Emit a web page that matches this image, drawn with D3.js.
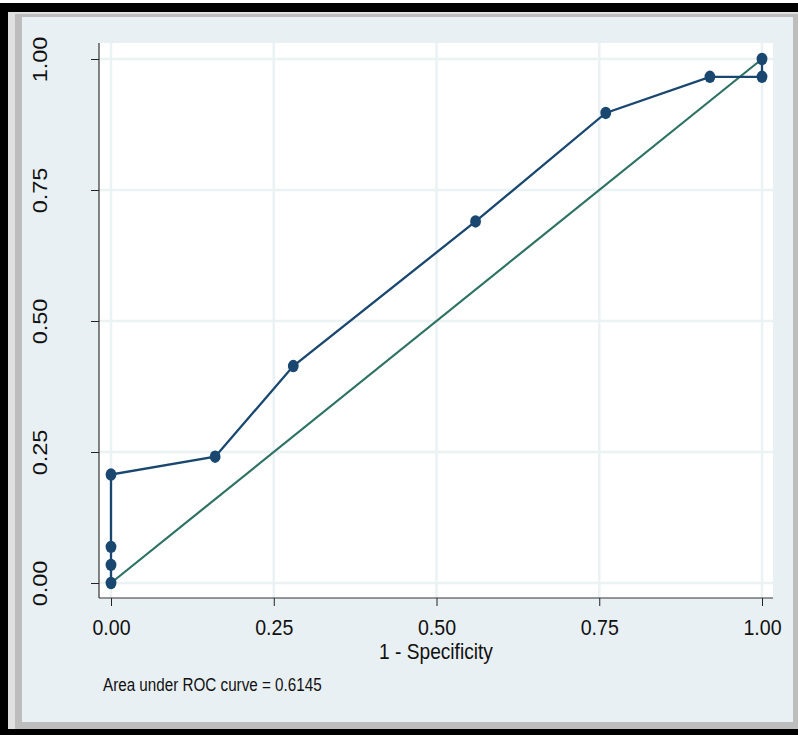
<!DOCTYPE html>
<html>
<head>
<meta charset="utf-8">
<script src="https://cdn.jsdelivr.net/npm/d3@7"></script>
<style>
  body { margin: 0; background: #fff; }
  text { font-family: "Liberation Sans", Arial, sans-serif; fill: #111; }
</style>
</head>
<body>
<div id="chart"></div>
<script>
// ROC curve points (1 - specificity, sensitivity)
const fpr = [0, 0, 0, 0, 0.16, 0.28, 0.56, 0.76, 0.92, 1, 1];
const tpr = [0, 0.0345, 0.069, 0.207, 0.241, 0.414, 0.690, 0.897, 0.966, 0.966, 1];
const tickValues = [0, 0.25, 0.5, 0.75, 1];
const tickLabels = ['0.00', '0.25', '0.50', '0.75', '1.00'];
const xTitle = '1 - Specificity';
const note = 'Area under ROC curve = 0.6145';

const width = 798, height = 735;
const squeeze = 0.87; // picture is a bit narrower than tall
const plot = { left: 99, right: 773, top: 43, bottom: 598 };

const svg = d3.select('#chart').append('svg')
  .attr('width', width)
  .attr('height', height);

// frame: black edge, grey bevel, light blue panel
svg.append('rect').attr('x', 0).attr('y', 3).attr('width', 798).attr('height', 732).attr('fill', '#000');
svg.append('rect').attr('x', 8).attr('y', 12).attr('width', 790).attr('height', 717).attr('fill', '#e0e0e0');
svg.append('rect').attr('x', 15).attr('y', 14).attr('width', 783).attr('height', 715).attr('fill', '#bdbdbd');
svg.append('rect').attr('x', 22).attr('y', 17).attr('width', 771).attr('height', 705).attr('fill', '#e9f0f3');

// plot region
svg.append('rect')
  .attr('x', plot.left).attr('y', plot.top)
  .attr('width', plot.right - plot.left).attr('height', plot.bottom - plot.top)
  .attr('fill', '#fff');

const x = d3.scaleLinear().domain([0, 1]).range([111, 762]);
const y = d3.scaleLinear().domain([0, 1]).range([583, 59]);

// grid
svg.append('g').selectAll('line.gx')
  .data(tickValues).enter().append('line')
    .attr('x1', function(d) { return x(d); })
    .attr('x2', function(d) { return x(d); })
    .attr('y1', plot.top).attr('y2', plot.bottom)
    .attr('stroke', '#eaf2f3').attr('stroke-width', 2.5);
svg.append('g').selectAll('line.gy')
  .data(tickValues).enter().append('line')
    .attr('y1', function(d) { return y(d); })
    .attr('y2', function(d) { return y(d); })
    .attr('x1', plot.left).attr('x2', plot.right)
    .attr('stroke', '#eaf2f3').attr('stroke-width', 2.5);

// axes
const xAxis = d3.axisBottom(x)
  .tickValues(tickValues)
  .tickSize(8)
  .tickSizeOuter(0)
  .tickFormat(function(d, i) { return tickLabels[i]; });
const yAxis = d3.axisLeft(y)
  .tickValues(tickValues)
  .tickSize(8)
  .tickSizeOuter(0)
  .tickFormat(function(d, i) { return tickLabels[i]; });

const gx = svg.append('g')
  .attr('transform', 'translate(0,' + plot.bottom + ')')
  .call(xAxis);
gx.select('.domain').remove();
gx.selectAll('.tick line').attr('stroke', '#222');
gx.selectAll('.tick text')
  .attr('y', null).attr('dy', null)
  .attr('text-anchor', 'middle')
  .attr('font-size', 22.5)
  .attr('font-family', null)
  .attr('transform', 'translate(0,37) scale(' + squeeze + ',1)');

const gy = svg.append('g')
  .attr('transform', 'translate(' + plot.left + ',0)')
  .call(yAxis);
gy.select('.domain').remove();
gy.selectAll('.tick line').attr('stroke', '#222');
gy.selectAll('.tick text')
  .attr('x', null).attr('dy', null)
  .attr('text-anchor', 'middle')
  .attr('font-size', 23.5)
  .attr('font-family', null)
  .attr('transform', 'translate(-52,0) scale(' + squeeze + ',1) rotate(-90)');

// axis lines
svg.append('line')
  .attr('x1', plot.left).attr('x2', plot.right)
  .attr('y1', plot.bottom).attr('y2', plot.bottom)
  .attr('stroke', '#333').attr('stroke-width', 1.2);
svg.append('line')
  .attr('x1', plot.left).attr('x2', plot.left)
  .attr('y1', plot.top).attr('y2', plot.bottom)
  .attr('stroke', '#333').attr('stroke-width', 1.2);

// reference line
svg.append('line')
  .attr('x1', x(0)).attr('y1', y(0))
  .attr('x2', x(1)).attr('y2', y(1))
  .attr('stroke', '#2e7264').attr('stroke-width', 2.2);

// roc curve
const pts = fpr.map(function(d, i) { return [d, tpr[i]]; });
const line = d3.line()
  .x(function(d) { return x(d[0]); })
  .y(function(d) { return y(d[1]); });
svg.append('path')
  .datum(pts)
  .attr('d', line)
  .attr('fill', 'none')
  .attr('stroke', '#1a476f')
  .attr('stroke-width', 2.3);
svg.append('g').selectAll('ellipse')
  .data(pts).enter().append('ellipse')
    .attr('cx', function(d) { return x(d[0]); })
    .attr('cy', function(d) { return y(d[1]); })
    .attr('rx', 5.4)
    .attr('ry', 6.2)
    .attr('fill', '#1a476f');

// titles
svg.append('text')
  .attr('text-anchor', 'middle')
  .attr('font-size', 22)
  .attr('transform', 'translate(436,659) scale(' + squeeze + ',1)')
  .text(xTitle);
svg.append('text')
  .attr('font-size', 17.5)
  .attr('transform', 'translate(103,691) scale(' + squeeze + ',1)')
  .text(note);
</script>
</body>
</html>
